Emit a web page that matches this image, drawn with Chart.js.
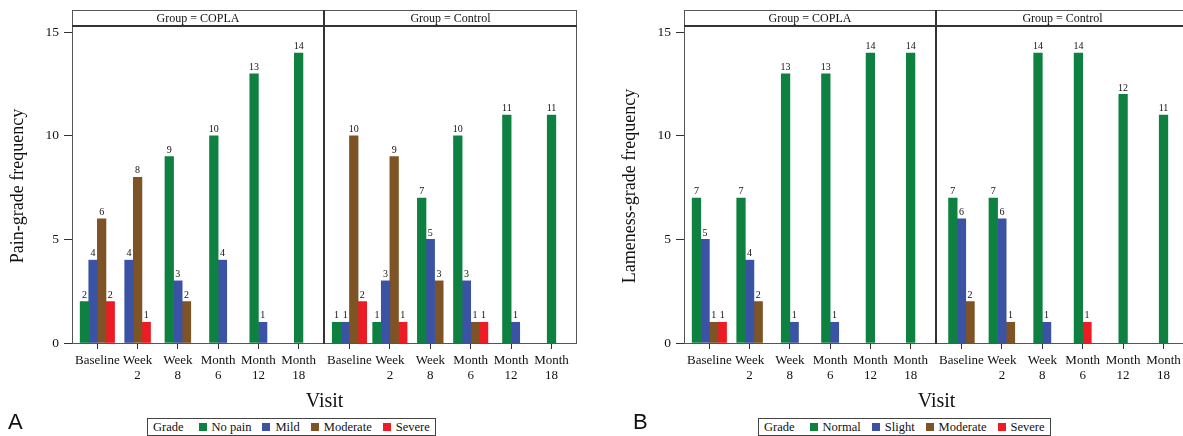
<!DOCTYPE html>
<html>
<head>
<meta charset="utf-8">
<script src="https://cdn.jsdelivr.net/npm/chart.js@4.4.1/dist/chart.umd.min.js"></script>
<style>
html,body{margin:0;padding:0;background:#fff;}
body{width:1183px;height:436px;overflow:hidden;position:relative;font-family:"Liberation Serif","Times New Roman",serif;color:#111;}
canvas{position:absolute;}
.frame{position:absolute;border:1px solid #555;box-sizing:border-box;pointer-events:none;z-index:2;}
.header{position:absolute;box-sizing:border-box;border-bottom:2px solid #333;pointer-events:none;z-index:2;}
.sep{position:absolute;background:#333;z-index:2;}
.htext{position:absolute;text-align:center;font-size:12px;line-height:15px;z-index:3;white-space:nowrap;}
.ytitle{position:absolute;width:300px;height:20px;line-height:20px;text-align:center;font-size:18px;transform:rotate(-90deg);transform-origin:50% 50%;white-space:nowrap;z-index:3;}
.xtitle{position:absolute;width:200px;text-align:center;font-size:20px;line-height:20px;z-index:3;}
.letter{position:absolute;font-family:"Liberation Sans",Arial,sans-serif;font-size:22px;line-height:22px;z-index:3;}
.legend{position:absolute;border:1px solid #444;box-sizing:border-box;height:18px;display:flex;align-items:center;padding:0 5px;font-size:12.5px;line-height:16px;white-space:nowrap;z-index:3;background:#fff;}
.legend .ttl{margin-right:15px;}
.legend .sw{display:inline-block;width:8px;height:8px;margin-right:5px;}
.legend .lb{margin-right:11px;}
.legend .lb:last-child{margin-right:0;}
</style>
</head>
<body>
<script>
// ---------- data ----------
const visitLabels = [['Baseline'], ['Week', '2'], ['Week', '8'], ['Month', '6'], ['Month', '12'], ['Month', '18']];
const groupNames = ['COPLA', 'Control'];
const painGrades = ['No pain', 'Mild', 'Moderate', 'Severe'];
const lamenessGrades = ['Normal', 'Slight', 'Moderate', 'Severe'];
const gradeColors = ['#0e8040', '#3a53a4', '#7e5325', '#ed1c24'];
const yTickValues = [0, 5, 10, 15];

// Panel A – pain grade frequency
const painCoplaNoPain   = [2, 0, 9, 10, 13, 14];
const painCoplaMild     = [4, 4, 3, 4, 1, 0];
const painCoplaModerate = [6, 8, 2, 0, 0, 0];
const painCoplaSevere   = [2, 1, 0, 0, 0, 0];

const painControlNoPain   = [1, 1, 7, 10, 11, 11];
const painControlMild     = [1, 3, 5, 3, 1, 0];
const painControlModerate = [10, 9, 3, 1, 0, 0];
const painControlSevere   = [2, 1, 0, 1, 0, 0];

// Panel B – lameness grade frequency
const lameCoplaNormal   = [7, 7, 13, 13, 14, 14];
const lameCoplaSlight   = [5, 4, 1, 1, 0, 0];
const lameCoplaModerate = [1, 2, 0, 0, 0, 0];
const lameCoplaSevere   = [1, 0, 0, 0, 0, 0];

const lameControlNormal   = [7, 7, 14, 14, 12, 11];
const lameControlSlight   = [6, 6, 1, 0, 0, 0];
const lameControlModerate = [2, 1, 0, 0, 0, 0];
const lameControlSevere   = [0, 0, 0, 1, 0, 0];

// ---------- layout ----------
const FONT = '"Liberation Serif", "Times New Roman", serif';
const figures = [
  { letter: 'A', dx: 0, yTitle: 'Pain-grade frequency', grades: painGrades, legendLeft: 147, letterLeft: 8,
    series: [[painCoplaNoPain, painCoplaMild, painCoplaModerate, painCoplaSevere],
             [painControlNoPain, painControlMild, painControlModerate, painControlSevere]] },
  { letter: 'B', dx: 612, yTitle: 'Lameness-grade frequency', grades: lamenessGrades, legendLeft: 758, letterLeft: 633,
    series: [[lameCoplaNormal, lameCoplaSlight, lameCoplaModerate, lameCoplaSevere],
             [lameControlNormal, lameControlSlight, lameControlModerate, lameControlSevere]] }
];

const FRAME_TOP = 10, PLOT_TOP = 27, AXIS_Y = 343, FRAME_L = 72, SEP_X = 324, FRAME_R = 577;
const CANVAS_H = 366, XAXIS_H = CANVAS_H - (AXIS_Y - PLOT_TOP);
const Y_MAX = 15 * (AXIS_Y - PLOT_TOP) / (AXIS_Y - 32.3);

const valueLabels = {
  id: 'valueLabels',
  afterDatasetsDraw(chart) {
    const ctx = chart.ctx;
    ctx.save();
    ctx.font = '10px ' + FONT;
    ctx.fillStyle = '#111';
    ctx.textAlign = 'center';
    ctx.textBaseline = 'bottom';
    chart.data.datasets.forEach((ds, di) => {
      const meta = chart.getDatasetMeta(di);
      meta.data.forEach((el, i) => {
        const v = ds.data[i].y;
        if (v == null) return;
        ctx.fillText(String(v), el.x, el.y - 1.5);
      });
    });
    ctx.restore();
  }
};

function el(cls, styles, text) {
  const d = document.createElement('div');
  if (cls) d.className = cls;
  Object.assign(d.style, styles);
  if (text != null) d.textContent = text;
  document.body.appendChild(d);
  return d;
}

figures.forEach(fig => {
  const dx = fig.dx;
  // frame, header and separator
  el('frame', { left: (dx + FRAME_L) + 'px', top: FRAME_TOP + 'px', width: (FRAME_R - FRAME_L) + 'px', height: (AXIS_Y + 1 - FRAME_TOP) + 'px' });
  el('header', { left: (dx + FRAME_L) + 'px', top: FRAME_TOP + 'px', width: (FRAME_R - FRAME_L) + 'px', height: (PLOT_TOP - FRAME_TOP) + 'px' });
  el('sep', { left: (dx + SEP_X - 1) + 'px', top: FRAME_TOP + 'px', width: '2px', height: (AXIS_Y + 1 - FRAME_TOP) + 'px' });
  el('htext', { left: (dx + FRAME_L) + 'px', top: (FRAME_TOP + 1) + 'px', width: (SEP_X - FRAME_L) + 'px' }, 'Group = ' + groupNames[0]);
  el('htext', { left: (dx + SEP_X) + 'px', top: (FRAME_TOP + 1) + 'px', width: (FRAME_R - SEP_X) + 'px' }, 'Group = ' + groupNames[1]);

  // titles
  el('ytitle', { left: (dx + 17 - 150) + 'px', top: (186 - 10) + 'px' }, fig.yTitle);
  el('xtitle', { left: (dx + (FRAME_L + FRAME_R) / 2 - 100) + 'px', top: '390px' }, 'Visit');
  el('letter', { left: fig.letterLeft + 'px', top: '411px' }, fig.letter);

  // legend
  const lg = el('legend', { left: fig.legendLeft + 'px', top: '418px' });
  const t = document.createElement('span'); t.className = 'ttl'; t.textContent = 'Grade'; lg.appendChild(t);
  fig.grades.forEach((g, gi) => {
    const sw = document.createElement('span'); sw.className = 'sw'; sw.style.background = gradeColors[gi]; lg.appendChild(sw);
    const lb = document.createElement('span'); lb.className = 'lb'; lb.textContent = g; lg.appendChild(lb);
  });

  // facet charts
  [0, 1].forEach(fi => {
    const cv = document.createElement('canvas');
    const left = fi === 0 ? dx : dx + SEP_X;
    const width = fi === 0 ? SEP_X : FRAME_R - SEP_X;
    const yWidth = fi === 0 ? FRAME_L : 0;
    cv.width = width; cv.height = CANVAS_H;
    cv.style.left = left + 'px'; cv.style.top = PLOT_TOP + 'px';
    cv.style.width = width + 'px'; cv.style.height = CANVAS_H + 'px';
    document.body.appendChild(cv);

    const datasets = fig.grades.map((g, gi) => ({
      label: g,
      data: fig.series[fi][gi].map((v, i) => ({ x: i, y: v > 0 ? v : null })),
      backgroundColor: gradeColors[gi],
      borderWidth: 0,
      barThickness: 8.6,
      skipNull: true,
      grouped: true
    }));

    new Chart(cv, {
      type: 'bar',
      data: { datasets },
      options: {
        responsive: false,
        animation: false,
        devicePixelRatio: 1,
        layout: { padding: 0, autoPadding: false },
        plugins: { legend: { display: false }, tooltip: { enabled: false } },
        scales: {
          x: {
            type: 'linear',
            offset: false,
            min: -0.63,
            max: 5.63,
            afterBuildTicks: s => { s.ticks = visitLabels.map((_, i) => ({ value: i })); },
            afterFit: s => { s.height = XAXIS_H; s.paddingLeft = 0; s.paddingRight = 0; },
            grid: { display: true, drawOnChartArea: false, drawTicks: true, tickLength: 6, color: '#333', offset: false },
            border: { display: false },
            ticks: {
              autoSkip: false, maxRotation: 0, minRotation: 0, padding: 4,
              color: '#111',
              font: { family: FONT, size: 13, lineHeight: 1.15 },
              callback: v => visitLabels[v]
            }
          },
          y: {
            display: fi === 0,
            bounds: 'data',
            min: 0,
            max: Y_MAX,
            afterDataLimits: s => { s.min = 0; s.max = Y_MAX; },
            afterBuildTicks: s => { s.ticks = yTickValues.map(v => ({ value: v })); },
            afterFit: s => { s.width = yWidth; s.paddingTop = 0; s.paddingBottom = 0; },
            grid: { display: true, drawOnChartArea: false, drawTicks: true, tickLength: 8, color: '#333' },
            border: { display: false },
            ticks: { padding: 5, color: '#111', font: { family: FONT, size: 13.5 } }
          }
        }
      },
      plugins: [valueLabels]
    });
  });
});
</script>
</body>
</html>
